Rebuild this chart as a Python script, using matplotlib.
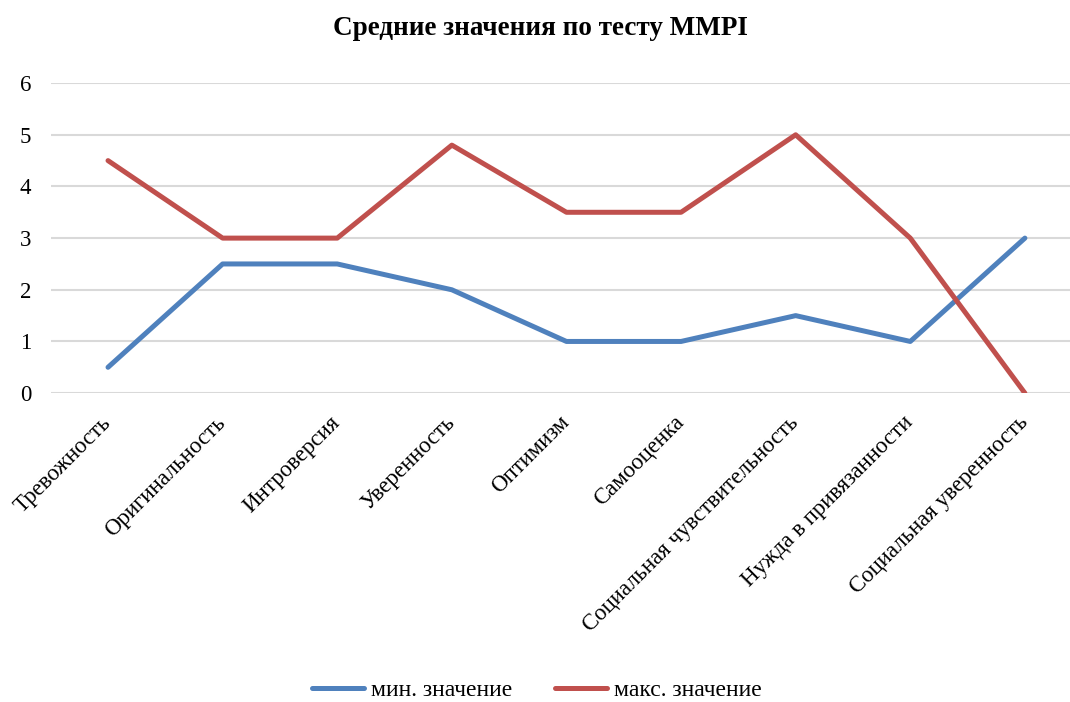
import matplotlib
matplotlib.use("Agg")
import matplotlib.pyplot as plt

plt.rcParams['font.family'] = ['Liberation Serif', 'DejaVu Serif']

# ---------- DATA ----------
categories = ["Тревожность", "Оригинальность", "Интроверсия", "Уверенность",
              "Оптимизм", "Самооценка", "Социальная чувствительность",
              "Нужда в привязанности", "Социальная уверенность"]
min_vals = [0.5, 2.5, 2.5, 2.0, 1.0, 1.0, 1.5, 1.0, 3.0]
max_vals = [4.5, 3.0, 3.0, 4.8, 3.5, 3.5, 5.0, 3.0, 0.0]
yticks = [0, 1, 2, 3, 4, 5, 6]

# ---------- PLOT ----------
fig = plt.figure(figsize=(10.7, 7.02), dpi=100)
ax = fig.add_axes([0.0474, 0.440, 0.964, 0.4416])

x = list(range(len(categories)))
ax.plot(x, min_vals, color="#4F81BD", lw=3.6, solid_capstyle="round",
        solid_joinstyle="round", label="мин. значение", zorder=3)
ax.plot(x, max_vals, color="#C0504D", lw=3.6, solid_capstyle="round",
        solid_joinstyle="round", label="макс. значение", zorder=3)

ax.set_xlim(-0.5, len(categories) - 0.5)
ax.set_ylim(0, 6)
ax.set_yticks(yticks)
ax.yaxis.grid(True, color="#D9D9D9", lw=1.5)
ax.set_axisbelow(True)
for s in ax.spines.values():
    s.set_visible(False)
ax.tick_params(axis="y", length=0, pad=14, labelsize=16.5)
ax.tick_params(axis="x", length=0, pad=19)
ax.set_xticks(x)
ax.set_xticklabels(categories, rotation=45, ha="right", va="center",
                   rotation_mode="anchor", fontsize=16.5)

fig.text(0.505, 0.96, "Средние значения по тесту MMPI", ha="center",
         va="center", fontsize=19.5, fontweight="bold")

fig.legend(loc="center", bbox_to_anchor=(0.502, 0.017), ncol=2, frameon=False,
           fontsize=17, handlelength=2.2, columnspacing=1.8, handletextpad=0.3)

fig.savefig("out.png", dpi=100)
